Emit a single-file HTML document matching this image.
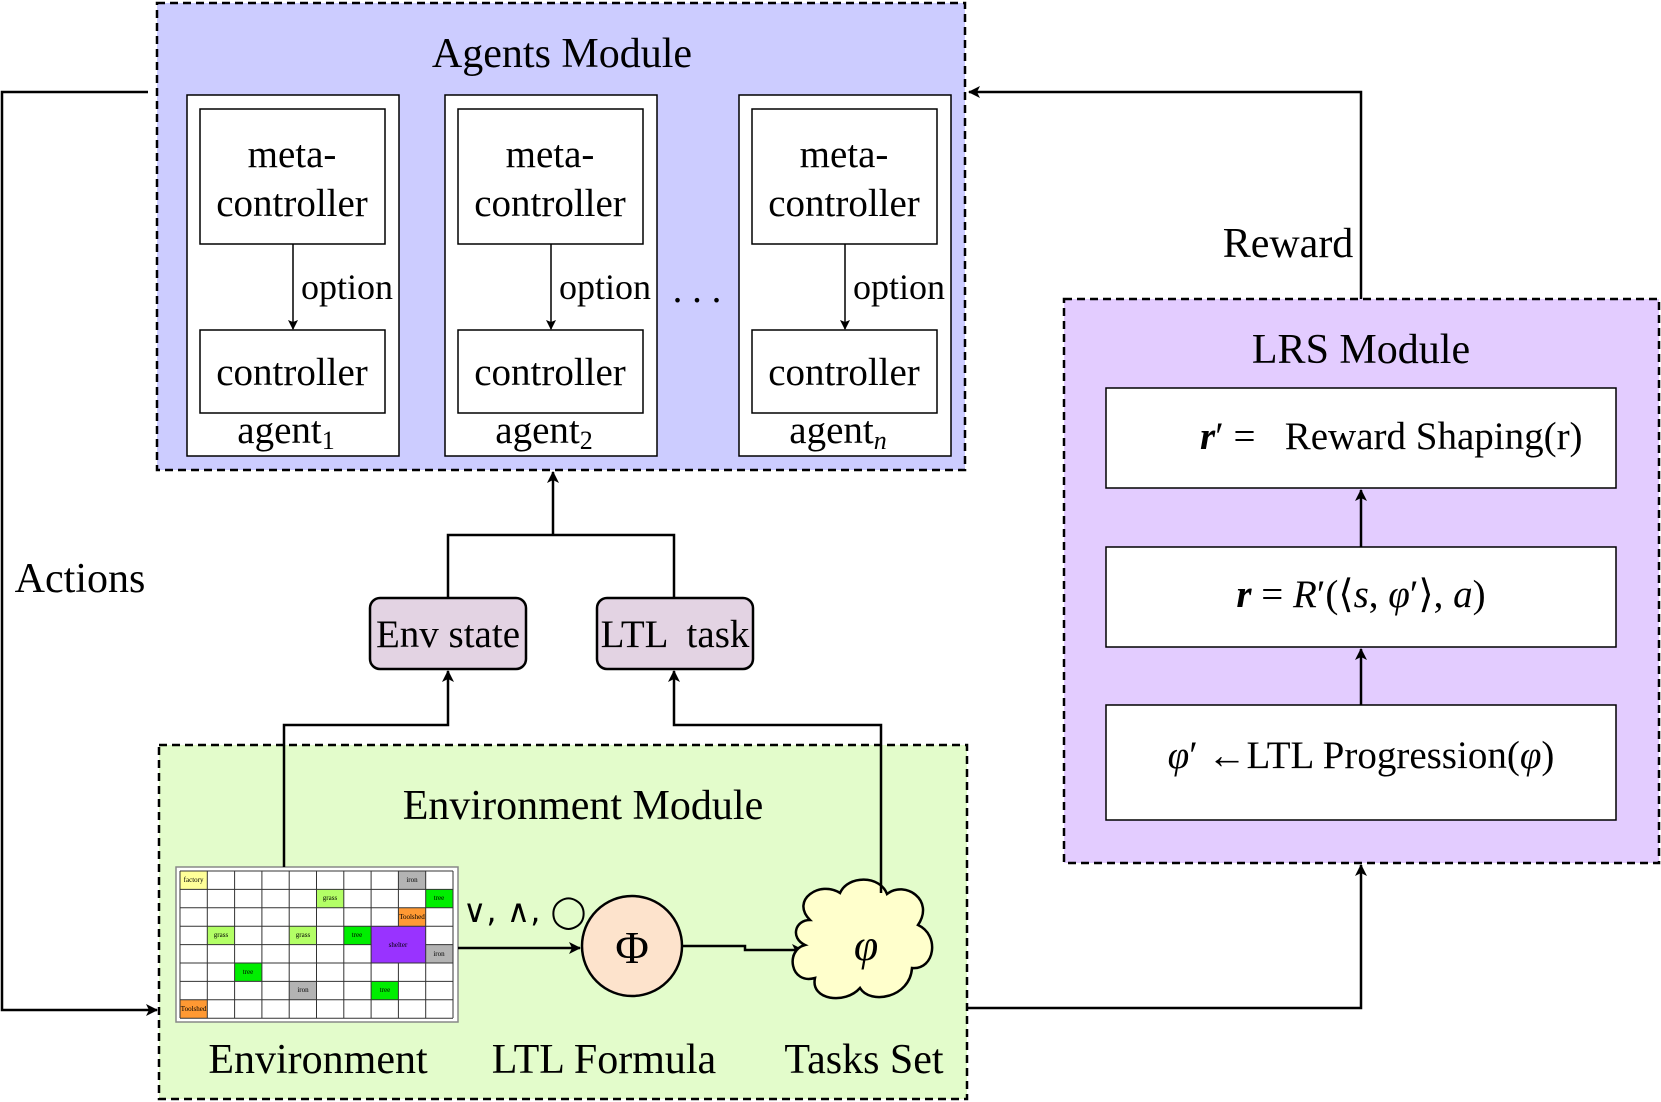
<!DOCTYPE html>
<html><head><meta charset="utf-8"><style>
html,body{margin:0;padding:0;background:#fff;}
svg{display:block;font-family:"Liberation Serif",serif;}
</style></head><body>
<svg width="1661" height="1102" viewBox="0 0 1661 1102" xmlns="http://www.w3.org/2000/svg">
<defs>
<marker id="a" markerWidth="12" markerHeight="12" refX="11" refY="6" orient="auto" markerUnits="userSpaceOnUse"><path d="M0,0 L12,6 L0,12 L3,6 Z" fill="#000"/></marker>
<marker id="s" markerWidth="10" markerHeight="10" refX="9" refY="5" orient="auto" markerUnits="userSpaceOnUse"><path d="M0,0 L10,5 L0,10 L2,5 Z" fill="#000"/></marker>
</defs>
<!-- Agents module -->
<rect x="157" y="3" width="808" height="467" fill="#ccccff" stroke="#000" stroke-width="2.5" stroke-dasharray="8,5"/>
<text x="562" y="67" font-size="42" text-anchor="middle">Agents Module</text>
<g font-size="39" text-anchor="middle">
<g id="ag">
<rect x="187" y="95" width="212" height="361" fill="#fff" stroke="#000" stroke-width="1.5"/>
<rect x="200" y="109" width="185" height="135" fill="#fff" stroke="#000" stroke-width="1.5"/>
<text x="292" y="167">meta-</text><text x="292" y="216">controller</text>
<rect x="200" y="330" width="185" height="83" fill="#fff" stroke="#000" stroke-width="1.5"/>
<text x="292" y="385">controller</text>
<line x1="293" y1="244" x2="293" y2="329" stroke="#000" stroke-width="1.5" marker-end="url(#s)"/>
<text x="347" y="299" font-size="36">option</text>
</g>
<use href="#ag" x="258"/>
<use href="#ag" x="552"/>
<text x="286" y="443">agent<tspan font-size="26" dy="6">1</tspan></text>
<text x="544" y="443">agent<tspan font-size="26" dy="6">2</tspan></text>
<text x="838" y="443">agent<tspan font-size="26" dy="6" font-style="italic">n</tspan></text>
<text x="697" y="302">. . .</text>
</g>
<!-- Env module -->
<rect x="159" y="745" width="808" height="354" fill="#e3fccb" stroke="#000" stroke-width="2.5" stroke-dasharray="8,5"/>
<text x="583" y="819" font-size="42" text-anchor="middle">Environment Module</text>
<!-- grid -->
<rect x="176" y="867" width="282" height="155" fill="#fff" stroke="#888" stroke-width="1.5"/>
<g font-size="7" text-anchor="middle">
<rect x="180" y="871" width="27.3" height="18.4" fill="#ffff99"/><text x="193.6" y="882">factory</text>
<rect x="398.4" y="871" width="27.3" height="18.4" fill="#b3b3b3"/><text x="412" y="882">iron</text>
<rect x="316.5" y="889.4" width="27.3" height="18.4" fill="#b3ff66"/><text x="330" y="900">grass</text>
<rect x="425.7" y="889.4" width="27.3" height="18.4" fill="#00ee00"/><text x="439" y="900">tree</text>
<rect x="398.4" y="907.8" width="27.3" height="18.4" fill="#ff9933"/><text x="412" y="919">Toolshed</text>
<rect x="207.3" y="926.2" width="27.3" height="18.4" fill="#b3ff66"/><text x="221" y="937">grass</text>
<rect x="289.2" y="926.2" width="27.3" height="18.4" fill="#b3ff66"/><text x="303" y="937">grass</text>
<rect x="343.8" y="926.2" width="27.3" height="18.4" fill="#00ee00"/><text x="357" y="937">tree</text>
<rect x="371.1" y="926.2" width="54.6" height="36.8" fill="#9933ff"/><text x="398" y="947">shelter</text>
<rect x="425.7" y="944.6" width="27.3" height="18.4" fill="#b3b3b3"/><text x="439" y="956">iron</text>
<rect x="234.6" y="963" width="27.3" height="18.4" fill="#00ee00"/><text x="248" y="974">tree</text>
<rect x="289.2" y="981.4" width="27.3" height="18.4" fill="#b3b3b3"/><text x="303" y="992">iron</text>
<rect x="371.1" y="981.4" width="27.3" height="18.4" fill="#00ee00"/><text x="385" y="992">tree</text>
<rect x="180" y="999.8" width="27.3" height="18.4" fill="#ff9933"/><text x="193.6" y="1011">Toolshed</text>
</g>
<g stroke="#333" stroke-width="1">
<path d="M180,871H453M180,889.4H453M180,907.8H453M180,926.2H453M180,944.6H371M425.7,944.6H453M180,963H453M180,981.4H453M180,999.8H453M180,1018.2H453"/>
<path d="M180,871V1018M207.3,871V1018M234.6,871V1018M261.9,871V1018M289.2,871V1018M316.5,871V1018M343.8,871V1018M371.1,871V1018M398.4,871V926M398.4,963V1018M425.7,871V1018M453,871V1018"/>
</g>
<!-- phi and cloud -->
<line x1="458" y1="948" x2="580" y2="948" stroke="#000" stroke-width="2.5" marker-end="url(#a)"/>
<text x="463" y="922" font-size="32" font-family="DejaVu Sans,sans-serif">∨, ∧, ◯</text>
<circle cx="632" cy="946" r="50" fill="#fde3cc" stroke="#000" stroke-width="2.5"/>
<text x="632" y="963" font-size="46" text-anchor="middle">Φ</text>
<path d="M682,946 H745 V950 H803" fill="none" stroke="#000" stroke-width="2.5" marker-end="url(#a)"/>
<path d="M810,920 C790,900 820,880 840,893 C848,875 880,875 887,894 C905,880 935,900 918,925 C940,935 935,970 912,968 C910,998 870,1005 860,988 C845,1005 810,1000 815,978 C790,985 785,950 805,945 C790,938 795,920 810,920 Z" fill="#ffffcc" stroke="#000" stroke-width="2.5"/>
<text x="866" y="960" font-size="44" font-style="italic" text-anchor="middle">φ</text>
<g font-size="42" text-anchor="middle">
<text x="318" y="1073">Environment</text>
<text x="604" y="1073">LTL Formula</text>
<text x="864" y="1073">Tasks Set</text>
</g>
<!-- env state / ltl task -->
<rect x="370" y="598" width="156" height="71" rx="10" fill="#e3d3e3" stroke="#000" stroke-width="2.5"/>
<text x="448" y="647" font-size="39" text-anchor="middle">Env state</text>
<rect x="597" y="598" width="156" height="71" rx="10" fill="#e3d3e3" stroke="#000" stroke-width="2.5"/>
<text x="675" y="647" font-size="39" text-anchor="middle" xml:space="preserve">LTL  task</text>
<g fill="none" stroke="#000" stroke-width="2.5">
<path d="M284,867 V725 H448 V671" marker-end="url(#a)"/>
<path d="M881,893 V725 H674 V671" marker-end="url(#a)"/>
<path d="M448,598 V535 H674 V598"/>
<path d="M553,535 V472" marker-end="url(#a)"/>
<path d="M148,92 H2 V1010 H157" marker-end="url(#a)"/>
<path d="M1361,299 V92 H969" marker-end="url(#a)"/>
<path d="M967,1008 H1361 V865" marker-end="url(#a)"/>
</g>
<text x="80" y="592" font-size="42" text-anchor="middle">Actions</text>
<text x="1288" y="257" font-size="42" text-anchor="middle">Reward</text>
<!-- LRS -->
<rect x="1064" y="299" width="595" height="564" fill="#e3ccff" stroke="#000" stroke-width="2.5" stroke-dasharray="8,5"/>
<text x="1361" y="363" font-size="42" text-anchor="middle">LRS Module</text>
<rect x="1106" y="388" width="510" height="100" fill="#fff" stroke="#000" stroke-width="1.5"/>
<rect x="1106" y="547" width="510" height="100" fill="#fff" stroke="#000" stroke-width="1.5"/>
<rect x="1106" y="705" width="510" height="115" fill="#fff" stroke="#000" stroke-width="1.5"/>
<g fill="none" stroke="#000" stroke-width="2.5">
<path d="M1361,547 V490" marker-end="url(#a)"/>
<path d="M1361,705 V649" marker-end="url(#a)"/>
</g>
<g font-size="39">
<text x="1200" y="449" xml:space="preserve"><tspan font-style="italic" font-weight="bold">r</tspan>′ =   Reward Shaping(r)</text>
<text x="1361" y="607" text-anchor="middle"><tspan font-style="italic" font-weight="bold">r</tspan> = <tspan font-style="italic">R</tspan>′(⟨<tspan font-style="italic">s</tspan>, <tspan font-style="italic">φ</tspan>′⟩, <tspan font-style="italic">a</tspan>)</text>
<text x="1361" y="768" text-anchor="middle"><tspan font-style="italic">φ</tspan>′ ←LTL Progression(<tspan font-style="italic">φ</tspan>)</text>
</g>
</svg>
</body></html>
